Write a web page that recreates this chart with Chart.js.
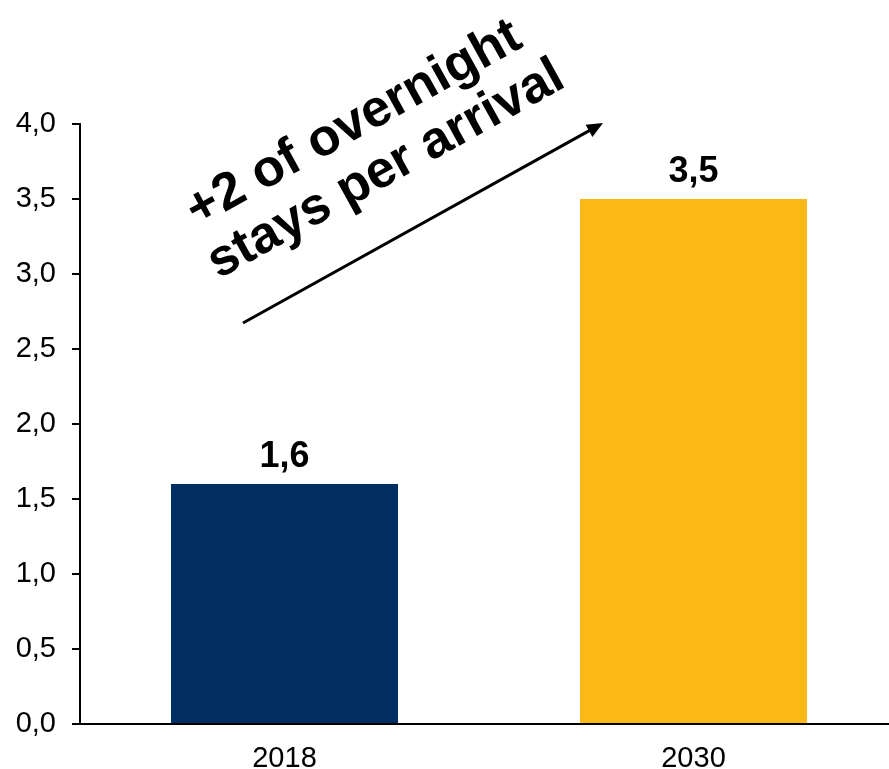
<!DOCTYPE html>
<html>
<head>
<meta charset="utf-8">
<script src="https://cdn.jsdelivr.net/npm/chart.js@4/dist/chart.umd.min.js"></script>
<style>
    html, body { margin: 0; padding: 0; background: #fff; }
    #wrap { width: 889px; height: 769px; overflow: hidden; position: relative; }
    #box { width: 898px; height: 769px; }
</style>
</head>
<body>
<div id="wrap"><div id="box"><canvas id="c"></canvas></div></div>
<script>
var YEARS = ['2018', '2030'];
var STAYS = [1.6, 3.5];
var BAR_COLORS = ['#002e62', '#fbb817'];
var NOTE_LINES = ['+2 of overnight', 'stays per arrival'];

var FONT = "'Liberation Sans', Arial, sans-serif";

function coma(v) { return v.toFixed(1).replace('.', ','); }

// etiquetas de valor sobre cada barra
var valorBarras = {
    id: 'valorBarras',
    afterDatasetsDraw: function (chart) {
        var ctx = chart.ctx;
        var meta = chart.getDatasetMeta(0);
        ctx.save();
        ctx.font = 'bold 36px ' + FONT;
        ctx.fillStyle = '#000';
        ctx.textAlign = 'center';
        ctx.textBaseline = 'alphabetic';
        meta.data.forEach(function (bar, i) {
            ctx.fillText(coma(STAYS[i]), bar.x, bar.y - 17);
        });
        ctx.restore();
    }
};

// texto inclinado y flecha de crecimiento
var flecha = {
    id: 'flecha',
    afterDraw: function (chart) {
        var ctx = chart.ctx;
        var ang = -29 * Math.PI / 180;
        ctx.save();
        ctx.fillStyle = '#000';
        ctx.font = 'bold 52px ' + FONT;
        ctx.textAlign = 'center';
        ctx.textBaseline = 'middle';
        var centros = [[354, 124], [386, 170]];
        NOTE_LINES.forEach(function (t, i) {
            ctx.save();
            ctx.translate(centros[i][0], centros[i][1]);
            ctx.rotate(ang);
            ctx.fillText(t, 0, 0);
            ctx.restore();
        });

        var x0 = 243, y0 = 323, x1 = 603, y1 = 123;
        var a = Math.atan2(y1 - y0, x1 - x0);
        ctx.strokeStyle = '#000';
        ctx.lineWidth = 3;
        ctx.beginPath();
        ctx.moveTo(x0, y0);
        ctx.lineTo(x1 - 10 * Math.cos(a), y1 - 10 * Math.sin(a));
        ctx.stroke();
        ctx.beginPath();
        ctx.moveTo(x1, y1);
        ctx.lineTo(x1 - 16 * Math.cos(a) + 7 * Math.sin(a), y1 - 16 * Math.sin(a) - 7 * Math.cos(a));
        ctx.lineTo(x1 - 16 * Math.cos(a) - 7 * Math.sin(a), y1 - 16 * Math.sin(a) + 7 * Math.cos(a));
        ctx.closePath();
        ctx.fill();
        ctx.restore();
    }
};

new Chart(document.getElementById('c'), {
    type: 'bar',
    data: {
        labels: YEARS,
        datasets: [{
            data: STAYS,
            backgroundColor: BAR_COLORS,
            borderWidth: 0,
            barPercentage: 0.555,
            categoryPercentage: 1
        }]
    },
    options: {
        responsive: true,
        maintainAspectRatio: false,
        animation: false,
        events: [],
        layout: {padding: {top: 124, right: 0, bottom: 0, left: 0}},
        plugins: {legend: {display: false}, tooltip: {enabled: false}},
        scales: {
            x: {
                afterFit: function (s) { s.height = 45; },
                grid: {display: false},
                border: {display: true, color: '#000', width: 2},
                ticks: {color: '#000', padding: 10, font: {family: FONT, size: 29}}
            },
            y: {
                min: 0,
                max: 4,
                afterFit: function (s) { s.width = 80; },
                grid: {drawOnChartArea: false, drawTicks: true, tickLength: 8, color: '#000', lineWidth: 2},
                border: {display: true, color: '#000', width: 2},
                ticks: {
                    stepSize: 0.5,
                    color: '#000',
                    padding: 16,
                    font: {family: FONT, size: 29},
                    callback: function (v) { return coma(v); }
                }
            }
        }
    },
    plugins: [valorBarras, flecha]
});
</script>
</body>
</html>
